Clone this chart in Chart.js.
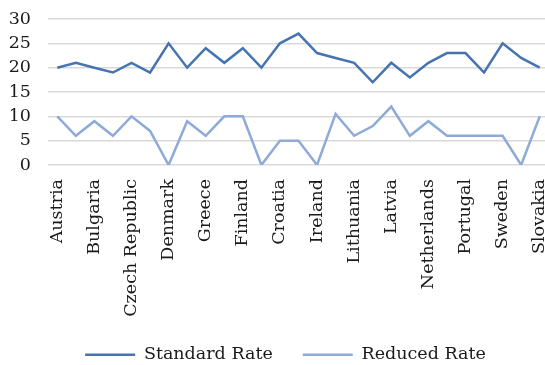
<!DOCTYPE html>
<html>
<head>
<meta charset="utf-8">
<script src="https://cdn.jsdelivr.net/npm/chart.js@4/dist/chart.umd.min.js"></script>
<style>
  html, body { margin: 0; padding: 0; background: #fff; overflow: hidden; }
  #wrap { width: 549px; height: 365px; }
</style>
</head>
<body>
<div id="wrap"><canvas id="c" width="549" height="365"></canvas></div>
<script>
// EU member states, VAT rates (%)
const countries = [
  'Austria', 'Belgium', 'Bulgaria', 'Cyprus', 'Czech Republic', 'Germany',
  'Denmark', 'Estonia', 'Greece', 'Spain', 'Finland', 'France', 'Croatia',
  'Hungary', 'Ireland', 'Italy', 'Lithuania', 'Luxembourg', 'Latvia', 'Malta',
  'Netherlands', 'Poland', 'Portugal', 'Romania', 'Sweden', 'Slovenia', 'Slovakia'
];
const standardRate = [20, 21, 20, 19, 21, 19, 25, 20, 24, 21, 24, 20, 25, 27,
  23, 22, 21, 17, 21, 18, 21, 23, 23, 19, 25, 22, 20];
const reducedRate = [10, 6, 9, 6, 10, 7, 0, 9, 6, 10, 10, 0, 5, 5,
  0, 10.5, 6, 8, 12, 6, 9, 6, 6, 6, 6, 0, 10];
const yTicks = [0, 5, 10, 15, 20, 25, 30];

const FONT = '"DejaVu Serif", serif';
const TEXT = '#1a1a1a';

// nudge the legend so it sits centred under the whole figure
const legendShift = {
  id: 'legendShift',
  afterLayout(chart) {
    const lg = chart.legend;
    if (lg) { lg.left += 11; lg.right += 11; }
  }
};

new Chart(document.getElementById('c'), {
  type: 'line',
  data: {
    labels: countries,
    datasets: [
      { label: 'Standard Rate', data: standardRate, borderColor: '#4674b0',
        backgroundColor: '#4674b0', borderWidth: 2.5, pointRadius: 0, tension: 0 },
      { label: 'Reduced Rate', data: reducedRate, borderColor: '#8eaad8',
        backgroundColor: '#8eaad8', borderWidth: 2.5, pointRadius: 0, tension: 0 }
    ]
  },
  plugins: [legendShift],
  options: {
    responsive: false,
    animation: false,
    layout: { padding: { left: 0, top: 19, right: 0, bottom: 4 } },
    plugins: {
      legend: {
        position: 'bottom',
        maxHeight: 45,
        labels: {
          font: { family: FONT, size: 17.5 },
          color: TEXT,
          boxWidth: 50,
          boxHeight: 0,
          padding: 30
        }
      },
      tooltip: { enabled: false }
    },
    scales: {
      x: {
        offset: true,
        afterFit: (axis) => { axis.height = 151; axis.paddingLeft = 0; axis.paddingRight = 0; },
        grid: { display: false, drawTicks: false },
        border: { display: false },
        ticks: {
          autoSkip: false,
          maxRotation: 90,
          minRotation: 90,
          font: { family: FONT, size: 17.5 },
          color: TEXT,
          padding: 14,
          callback: function (v, i) { return i % 2 === 0 ? countries[i] : ''; }
        }
      },
      y: {
        min: 0,
        max: 30,
        afterBuildTicks: (axis) => { axis.ticks = yTicks.map(v => ({ value: v })); },
        afterFit: (axis) => { axis.width = 48; axis.paddingTop = 0; axis.paddingBottom = 0; },
        grid: { color: '#d9d9d9', lineWidth: 1.5, drawTicks: false },
        border: { display: false },
        ticks: {
          autoSkip: false,
          font: { family: FONT, size: 17.5 },
          color: TEXT,
          padding: 17
        }
      }
    }
  }
});
</script>
</body>
</html>
